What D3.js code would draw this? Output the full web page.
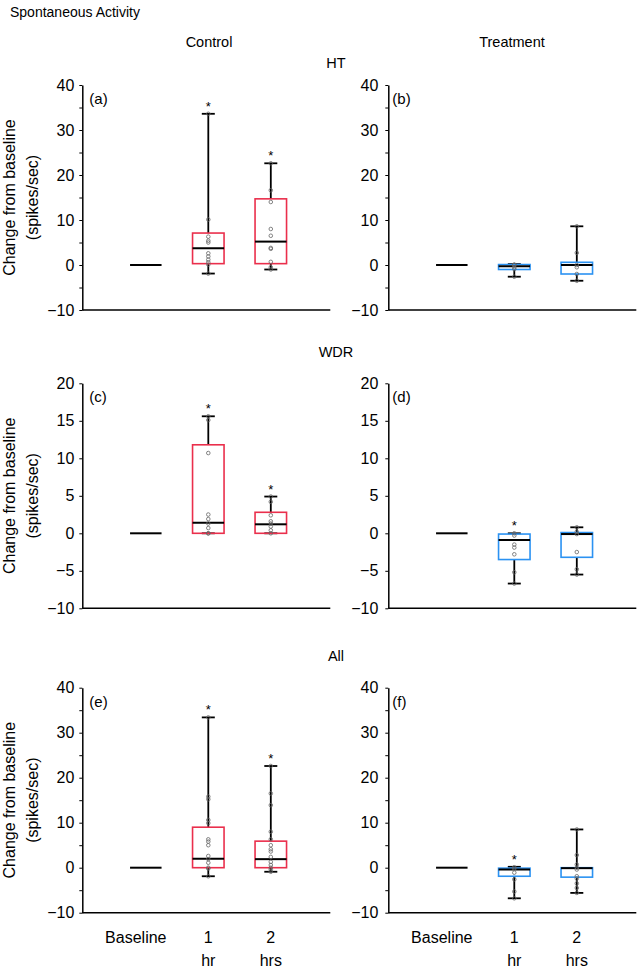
<!DOCTYPE html>
<html>
<head>
<meta charset="utf-8">
<script src="https://cdn.jsdelivr.net/npm/d3@7"></script>
<style>
  body { margin: 0; background: #fff; }
  svg { display: block; font-family: "Liberation Sans", Arial, Helvetica, sans-serif; }
</style>
</head>
<body>
<svg id="chart" width="640" height="969"></svg>
<script>
const categories = ["Baseline", "1", "2"];
const categorySub = ["", "hr", "hrs"];
const columnTitles = ["Control", "Treatment"];
const rowTitles = ["HT", "WDR", "All"];
const panelLabels = ["(a)", "(b)", "(c)", "(d)", "(e)", "(f)"];
const ticksWide = [-10, 0, 10, 20, 30, 40];
const minorWide = [-5, 5, 15, 25, 35];
const ticksNarrow = [-10, -5, 0, 5, 10, 15, 20];

// each box: whisker low, q1, median, q3, whisker high  ("1 hr", "2 hrs")
const boxA = [[-1.9, 0.3, 3.7, 7.1, 33.6], [-1.0, 0.3, 5.2, 14.7, 22.6]];
const boxB = [[-2.6, -1.0, -0.3, 0.1, 0.2], [-3.5, -2.0, 0.0, 0.6, 8.6]];
const boxC = [[0.0, 0.0, 1.4, 11.8, 15.6], [0.0, 0.0, 1.2, 2.8, 4.9]];
const boxD = [[-6.7, -3.5, -0.9, -0.1, 0.0], [-5.5, -3.2, -0.1, 0.1, 0.8]];
const boxE = [[-1.9, 0.0, 2.0, 9.0, 33.4], [-0.9, 0.0, 1.9, 5.9, 22.6]];
const boxF = [[-6.8, -1.9, -0.4, -0.1, 0.2], [-5.6, -2.1, -0.1, 0.0, 8.5]];

// individual neurons
const ptsA = [[33.6, 10.1, 6.3, 5.4, 5.0, 2.6, 1.9, 1.2, 0.6, 0.1, -1.9],
              [22.6, 16.6, 14.0, 8.0, 6.5, 3.8, 3.6, 0.7, -0.5, -1.0]];
const ptsB = [[0.1, 0.0, -0.5, -0.9, -2.6],
              [8.6, 2.7, 0.0, -0.5, -2.0, -3.5]];
const ptsC = [[15.6, 15.1, 10.7, 2.5, 1.9, 1.3, 0.7, 0.0, 0.0],
              [4.9, 4.2, 2.4, 1.6, 1.3, 0.9, 0.4, 0.0]];
const ptsD = [[0.0, -0.3, -1.5, -1.9, -2.8, -5.2, -6.7],
              [0.8, 0.2, -0.1, -2.5, -4.8, -5.5]];
const ptsE = [[33.4, 15.8, 15.2, 10.6, 9.9, 6.3, 5.8, 5.0, 2.6, 1.9, 1.1, 0.0, -0.2, -1.9],
              [22.6, 16.5, 13.9, 8.0, 6.3, 5.0, 4.1, 3.6, 2.4, 1.3, 0.6, 0.0, -0.4, -0.9]];
const ptsF = [[0.1, -0.2, -1.1, -2.6, -5.3, -6.8],
              [8.5, 2.8, 0.7, 0.0, -0.4, -1.9, -2.4, -3.5, -4.5, -5.6]];

// significance marks
const starA = [true, true];
const starB = [false, false];
const starC = [true, true];
const starD = [true, false];
const starE = [true, true];
const starF = [true, false];

const baselineValue = 0;

const panels = [
  { box: boxA, pts: ptsA, star: starA },
  { box: boxB, pts: ptsB, star: starB },
  { box: boxC, pts: ptsC, star: starC },
  { box: boxD, pts: ptsD, star: starD },
  { box: boxE, pts: ptsE, star: starE },
  { box: boxF, pts: ptsF, star: starF }
];

const colLeft = [82.3, 388.3];
const rowTop = [85, 383.3, 687.7];
const plotH = 225;
const axisW = 248;
const boxW = 31.5;
const capW = 13;
const colors = ["#ea2f4c", "#2b92f2"];

const svg = d3.select("#chart");

svg.append("text").attr("x", 10).attr("y", 17).attr("font-size", "14px")
  .text("Spontaneous Activity");

columnTitles.forEach((t, i) => {
  svg.append("text").attr("x", [209, 512][i]).attr("y", 47)
    .attr("text-anchor", "middle").attr("font-size", "14.5px").text(t);
});

rowTitles.forEach((t, i) => {
  svg.append("text").attr("x", 336).attr("y", [68, 357, 661][i])
    .attr("text-anchor", "middle").attr("font-size", "14.5px").text(t);
});

panels.forEach((p, i) => {
  const col = i % 2, row = Math.floor(i / 2);
  const x0 = colLeft[col], top = rowTop[row];
  const narrow = row === 1;
  const y = d3.scaleLinear()
    .domain(narrow ? [-10, 20] : [-10, 40])
    .range([top + plotH, top]);
  const x = d3.scaleLinear().domain([0, 4]).range([x0 + 1, x0 + 251]);
  const g = svg.append("g");

  // y axis
  const ax = g.append("g").attr("transform", `translate(${x0},0)`)
    .call(d3.axisLeft(y)
      .tickValues(narrow ? ticksNarrow : ticksWide)
      .tickSize(3).tickSizeOuter(0)
      .tickPadding(col === 0 ? 5 : 7));
  ax.select(".domain").attr("stroke-width", 1.5);
  ax.selectAll("text").attr("font-size", "16px")
    .attr("font-family", "Liberation Sans, Arial, sans-serif").attr("fill", "#000");
  if (!narrow) {
    const mi = g.append("g").attr("transform", `translate(${x0},0)`)
      .call(d3.axisLeft(y).tickValues(minorWide).tickSize(3).tickFormat(""));
    mi.select(".domain").remove();
  }

  // x axis line
  g.append("line")
    .attr("x1", x0).attr("x2", x0 + axisW)
    .attr("y1", y(-10)).attr("y2", y(-10))
    .attr("stroke", "#000").attr("stroke-width", 1.5);

  // panel letter
  g.append("text").attr("x", x0 + (col === 0 ? 7 : 4)).attr("y", top + 19)
    .attr("font-size", "15px").text(panelLabels[i]);

  // baseline
  g.append("line")
    .attr("x1", x(1) - boxW / 2).attr("x2", x(1) + boxW / 2)
    .attr("y1", y(baselineValue)).attr("y2", y(baselineValue))
    .attr("stroke", "#000").attr("stroke-width", 2);

  p.box.forEach((b, k) => {
    const cx = x(k + 2);
    const [lo, q1, med, q3, hi] = b;
    const bg = g.append("g");
    // whiskers
    bg.append("line").attr("x1", cx).attr("x2", cx)
      .attr("y1", y(hi)).attr("y2", y(q3))
      .attr("stroke", "#000").attr("stroke-width", 1.8);
    bg.append("line").attr("x1", cx).attr("x2", cx)
      .attr("y1", y(q1)).attr("y2", y(lo))
      .attr("stroke", "#000").attr("stroke-width", 1.8);
    [lo, hi].forEach(v => {
      bg.append("line").attr("x1", cx - capW / 2).attr("x2", cx + capW / 2)
        .attr("y1", y(v)).attr("y2", y(v))
        .attr("stroke", "#000").attr("stroke-width", 1.8);
    });
    // box
    bg.append("rect")
      .attr("x", cx - boxW / 2).attr("y", y(q3))
      .attr("width", boxW).attr("height", Math.max(0, y(q1) - y(q3)))
      .attr("fill", "none").attr("stroke", colors[col]).attr("stroke-width", 1.6);
    // median
    bg.append("line").attr("x1", cx - boxW / 2).attr("x2", cx + boxW / 2)
      .attr("y1", y(med)).attr("y2", y(med))
      .attr("stroke", "#000").attr("stroke-width", 2);
    // neurons
    bg.selectAll("circle").data(p.pts[k]).join("circle")
      .attr("cx", cx).attr("cy", d => y(d)).attr("r", 1.8)
      .attr("fill", "none").attr("stroke", "#666").attr("stroke-width", 0.8);
    if (p.star[k]) {
      bg.append("text").attr("x", cx).attr("y", y(hi) - 3)
        .attr("text-anchor", "middle").attr("font-size", "13px").text("*");
    }
  });

  // y title on left column
  if (col === 0) {
    const cy = top + plotH / 2;
    g.append("text").attr("transform", `translate(15,${cy}) rotate(-90)`)
      .attr("text-anchor", "middle").attr("font-size", "16px").text("Change from baseline");
    g.append("text").attr("transform", `translate(38,${cy}) rotate(-90)`)
      .attr("text-anchor", "middle").attr("font-size", "16px").text("(spikes/sec)");
  }

  // category labels on bottom row
  if (row === 2) {
    categories.forEach((c, k) => {
      g.append("text").attr("x", x(k + 1) + (k === 0 ? -10 : 0)).attr("y", 943)
        .attr("text-anchor", "middle").attr("font-size", "16px").text(c);
      if (categorySub[k]) {
        g.append("text").attr("x", x(k + 1)).attr("y", 966)
          .attr("text-anchor", "middle").attr("font-size", "16px").text(categorySub[k]);
      }
    });
  }
});
</script>
</body>
</html>
